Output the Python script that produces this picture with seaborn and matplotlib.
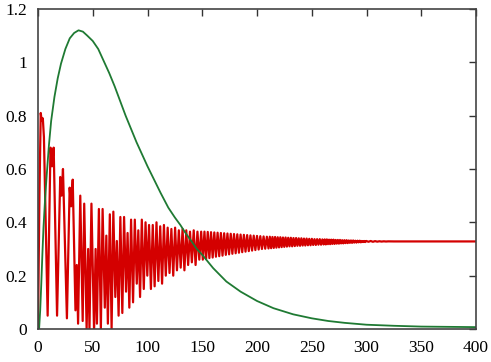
import matplotlib
matplotlib.use('Agg')
import matplotlib.pyplot as plt
import seaborn as sns

# green curve
green_x = [0, 1, 2, 3, 4, 5, 6.5, 8, 10, 12, 15, 18, 21, 25, 29, 33, 37, 41, 45, 50, 55, 60,
           65, 70, 75, 80, 85, 90, 95, 100, 106, 112, 119, 125, 130, 135, 140, 145, 150, 160,
           172, 185, 200, 215, 233, 250, 265, 280, 300, 325, 350, 375, 400]
green_y = [0, 0.0, 0.07, 0.17, 0.28, 0.38, 0.49, 0.58, 0.69, 0.78, 0.87, 0.94, 0.995, 1.05,
           1.09, 1.11, 1.12, 1.115, 1.10, 1.08, 1.05, 1.005, 0.96, 0.91, 0.855, 0.80, 0.75,
           0.70, 0.655, 0.61, 0.56, 0.51, 0.455, 0.418, 0.39, 0.358, 0.33, 0.30, 0.278, 0.228,
           0.178, 0.14, 0.105, 0.078, 0.055, 0.04, 0.03, 0.023, 0.016, 0.012, 0.009, 0.008,
           0.007]

# red oscillation, peaks and troughs in order
red_x = [
    0, 1.3, 2.5, 3.4, 4.4, 5.4, 8.8, 11.4, 12.8, 14.3, 17.4, 20.3, 21.5, 22.8, 26.4, 28.9,
    30.2, 31.7, 34.2, 35.4, 36.6, 38.6, 40.8, 42.2, 44.4, 45.8, 47.0, 48.8, 51.2, 52.6, 53.8,
    55.6, 57.4, 59.0, 61.0, 62.4, 63.8, 65.6, 67.2, 68.8, 70.6, 72.0, 73.6, 75.2, 77.0, 78.6,
    80.4, 81.8, 83.4, 85.0, 86.8, 88.4, 90.2, 91.6, 93.2, 94.8, 96.6, 98.2, 99.8, 101.4,
    103.1, 104.8, 106.5, 108.2, 109.9, 111.6, 113.3, 115.0, 116.7, 118.4, 120.1, 121.8, 123.5,
    125.2, 126.9, 128.6, 130.3, 132.0, 133.7, 135.4, 137.1, 138.8, 140.5, 142.2, 143.9, 145.6,
    147.3, 149.0, 150.5,
    152.0, 153.5, 155.0, 156.5, 158.0, 159.5, 161.0, 162.5, 164.0, 165.5, 167.0, 168.5, 170.0,
    171.5, 173.0, 174.5, 176.0, 177.5, 179.0, 180.5, 182.0, 183.5, 185.0, 186.5, 188.0, 189.5,
    191.0, 192.5, 194.0, 195.5, 197.0, 198.5, 200.0, 201.5, 203.0, 204.5, 206.0, 207.5, 209.0,
    210.5,
    211.7, 212.9, 214.1, 215.3, 216.5, 217.7, 218.9, 220.1, 221.3, 222.5, 223.7, 224.9, 226.1,
    227.3, 228.5, 229.7, 230.9, 232.1, 233.3, 234.5, 235.7, 236.9, 238.1, 239.3, 240.5, 241.7,
    242.9, 244.1, 245.3, 246.5, 247.7, 248.9, 250.1, 251.3, 252.5, 253.7, 254.9, 256.1, 257.3,
    258.5, 259.7,
    260.8, 261.8, 262.8, 263.8, 264.8, 265.8, 266.8, 267.8, 268.8, 269.8, 270.8, 271.8, 272.8,
    273.8, 274.8, 275.8, 276.8, 277.8, 278.8, 279.8, 280.8, 281.8, 282.8, 283.8, 284.8, 285.8,
    286.8, 287.8, 288.8, 289.8, 290.8, 291.8, 292.8, 293.8, 294.8, 295.8, 296.8, 297.8, 298.8,
    299.8,
    301.8, 303.8, 305.8, 307.8, 309.8, 311.8, 313.8, 315.8, 317.8, 319.8, 325, 400]
red_y = [
    0.00, 0.50, 0.81, 0.78, 0.79, 0.72, 0.05, 0.68, 0.61, 0.68, 0.05, 0.57, 0.50, 0.60, 0.04,
    0.53, 0.46, 0.56, 0.07, 0.24, 0.02, 0.50, 0.03, 0.47, 0.00, 0.30, 0.00, 0.47, -0.01, 0.30,
    0.02, 0.45, 0.00, 0.45, 0.08, 0.35, 0.02, 0.43, 0.00, 0.44, 0.12, 0.33, 0.05, 0.42, 0.06,
    0.42, 0.14, 0.36, 0.08, 0.41, 0.10, 0.41, 0.17, 0.37, 0.12, 0.41, 0.15, 0.40, 0.20, 0.39,
    0.15, 0.39, 0.16, 0.40, 0.18, 0.385, 0.17, 0.39, 0.20, 0.38, 0.21, 0.375, 0.20, 0.38, 0.22,
    0.37, 0.23, 0.375, 0.22, 0.37, 0.24, 0.365, 0.25, 0.37, 0.24, 0.365, 0.26, 0.365, 0.26,
    0.365, 0.262, 0.364, 0.266, 0.363, 0.268, 0.362, 0.271, 0.361, 0.273, 0.360, 0.275, 0.359,
    0.278, 0.358, 0.280, 0.357, 0.282, 0.356, 0.284, 0.355, 0.286, 0.354, 0.288, 0.353, 0.290,
    0.352, 0.292, 0.351, 0.294, 0.350, 0.296, 0.349, 0.298, 0.348, 0.300, 0.347, 0.301, 0.346,
    0.302,
    0.346, 0.303, 0.345, 0.304, 0.345, 0.305, 0.344, 0.306, 0.344, 0.307, 0.343, 0.308, 0.343,
    0.309, 0.342, 0.310, 0.342, 0.310, 0.341, 0.311, 0.341, 0.312, 0.340, 0.312, 0.340, 0.313,
    0.339, 0.313, 0.339, 0.314, 0.338, 0.314, 0.338, 0.315, 0.337, 0.315, 0.337, 0.316, 0.337,
    0.316, 0.336,
    0.317, 0.336, 0.317, 0.336, 0.318, 0.335, 0.318, 0.335, 0.319, 0.335, 0.319, 0.334, 0.320,
    0.334, 0.320, 0.334, 0.321, 0.333, 0.321, 0.333, 0.322, 0.333, 0.322, 0.332, 0.323, 0.332,
    0.323, 0.332, 0.324, 0.331, 0.324, 0.331, 0.325, 0.331, 0.325, 0.330, 0.326, 0.330, 0.326,
    0.330,
    0.327, 0.330, 0.327, 0.3295, 0.3275, 0.329, 0.3278, 0.3288, 0.328, 0.3286, 0.3283, 0.3283]

x_ticks = [0, 50, 100, 150, 200, 250, 300, 350, 400]
y_ticks = [0, 0.2, 0.4, 0.6, 0.8, 1.0, 1.2]
y_labels = ['0', '0.2', '0.4', '0.6', '0.8', '1', '1.2']

sns.set_style('white')
plt.rcParams['font.family'] = ['Liberation Serif', 'DejaVu Serif']

fig = plt.figure(figsize=(4.91, 3.62), dpi=100)
ax = fig.add_axes([0.0774, 0.0912, 0.8921, 0.884])

sns.lineplot(x=red_x, y=red_y, ax=ax, color='#d40000', linewidth=1.6,
             estimator=None, sort=False)
sns.lineplot(x=green_x, y=green_y, ax=ax, color='#1f7a33', linewidth=1.3,
             estimator=None, sort=False)

ax.set_xlim(0, 400)
ax.set_ylim(0, 1.2)
ax.set_xticks(x_ticks)
ax.set_yticks(y_ticks)
ax.set_yticklabels(y_labels)
ax.tick_params(direction='in', length=5, width=1, top=True, right=True,
               labelsize=12.5, pad=8, color='#333333', labelcolor='black')
for s in ax.spines.values():
    s.set_color('#444444')
    s.set_linewidth(1.2)
ax.set_xlabel('')
ax.set_ylabel('')

fig.savefig('out.png', dpi=100)
